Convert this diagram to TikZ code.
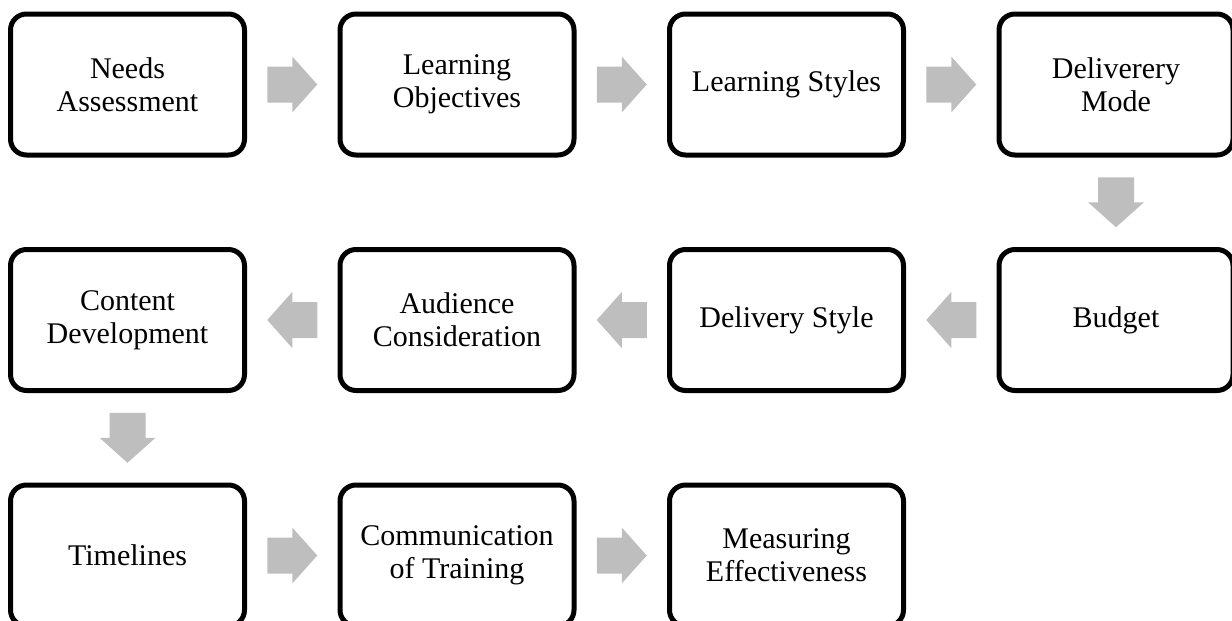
\documentclass[tikz,border=0pt]{standalone}
\usepackage{fontspec}
\setmainfont{Liberation Serif}
\usetikzlibrary{calc}
\definecolor{arrowgray}{RGB}{190,190,190}
\tikzset{
  stepbox/.style={draw=black, line width=5pt, rounded corners=16pt, fill=white,
    minimum width=234pt, minimum height=141pt, align=center,
    font=\fontsize{30}{33}\selectfont, inner sep=0pt},
  blockarrow/.pic={\fill[arrowgray] (-25,-18) -- (0,-18) -- (0,-28) -- (25,0) -- (0,28) -- (0,18) -- (-25,18) -- cycle;}
}
\begin{document}
\begin{tikzpicture}[x=1pt,y=-1pt]
\useasboundingbox (0,0) rectangle (1232,621);
\clip (0,0) rectangle (1232,621);
% row 1
\node[stepbox] (n1) at (127.5,84.5) {Needs\\Assessment};
\node[stepbox] (n2) at (457,84.5) {Learning\\Objectives};
\node[stepbox] (n3) at (786.5,84.5) {Learning Styles};
\node[stepbox] (n4) at (1116,84.5) {Deliverery\\Mode};
% row 2
\node[stepbox] (n5) at (1116,320) {Budget};
\node[stepbox] (n6) at (786.5,320) {Delivery Style};
\node[stepbox] (n7) at (457,320) {Audience\\Consideration};
\node[stepbox] (n8) at (127.5,320) {Content\\Development};
% row 3
\node[stepbox] (n9) at (127.5,555.5) {Timelines};
\node[stepbox] (n10) at (457,555.5) {Communication\\of Training};
\node[stepbox] (n11) at (786.5,555.5) {Measuring\\Effectiveness};
% arrows
\path ($(n1.east)!0.5!(n2.west)$) pic {blockarrow};
\path ($(n2.east)!0.5!(n3.west)$) pic {blockarrow};
\path ($(n3.east)!0.5!(n4.west)$) pic {blockarrow};
\path ($(n4.south)!0.5!(n5.north)$) pic[rotate=-90] {blockarrow};
\path ($(n5.west)!0.5!(n6.east)$) pic[rotate=180] {blockarrow};
\path ($(n6.west)!0.5!(n7.east)$) pic[rotate=180] {blockarrow};
\path ($(n7.west)!0.5!(n8.east)$) pic[rotate=180] {blockarrow};
\path ($(n8.south)!0.5!(n9.north)$) pic[rotate=-90] {blockarrow};
\path ($(n9.east)!0.5!(n10.west)$) pic {blockarrow};
\path ($(n10.east)!0.5!(n11.west)$) pic {blockarrow};
\end{tikzpicture}
\end{document}
